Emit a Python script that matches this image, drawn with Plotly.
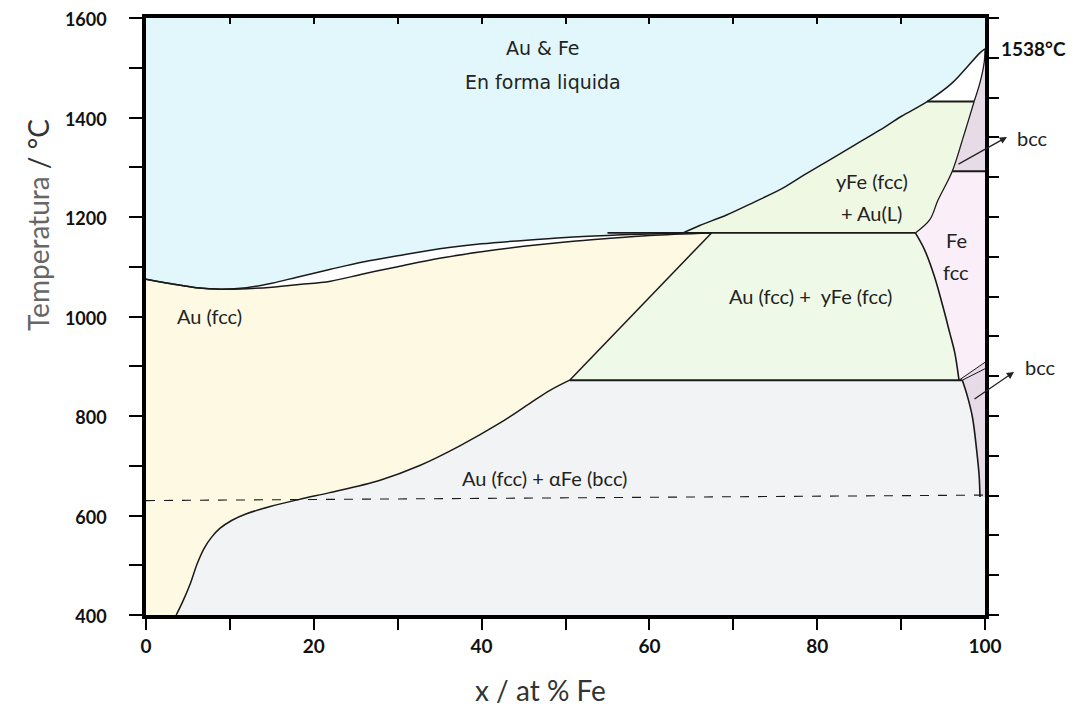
import plotly.graph_objects as go

# ---------------- data ----------------
liq_left_x = [0, 3, 6, 9, 12, 15, 18, 22, 26, 30, 35, 40, 45, 50, 55, 60, 64]
liq_left_T = [1075, 1066, 1058, 1055, 1058, 1067, 1079, 1095, 1110, 1122, 1136, 1146, 1153, 1159, 1163, 1166, 1168]

sol_left_x = [0, 3, 6, 9, 12, 15, 18, 22, 26, 30, 35, 40, 45, 50, 55, 60, 67.4]
sol_left_T = [1075, 1066, 1058, 1055, 1056, 1059, 1064, 1071, 1086, 1100, 1117, 1130, 1141, 1150, 1157, 1163, 1168]

liq_right_x = [64, 66, 69.2, 72.5, 75.9, 78.5, 81.5, 84.5, 87.5, 90, 93.1, 96, 99.4, 100]
liq_right_T = [1168, 1183, 1204, 1230, 1258, 1285, 1315, 1345, 1375, 1402, 1432, 1468, 1530, 1538]

peritectic_x = [55, 91.7]
peritectic_T = [1168, 1168]

au_solvus_hi_x = [67.4, 50.5]
au_solvus_hi_T = [1168, 872]

au_solvus_lo_x = [50.5, 48.2, 45.8, 42.2, 37.4, 32.7, 27.9, 21.9, 18.7, 14.8, 11.9, 10.2, 8.8, 7.8, 6.9, 6.1, 5.3, 4.4, 3.6]
au_solvus_lo_T = [872, 852, 826, 786, 740, 701, 671, 646, 634, 618, 603, 590, 574, 556, 533, 503, 464, 428, 400]

eutectoid_x = [50.5, 97.3]
eutectoid_T = [872, 872]

gamma_solvus_x = [91.7, 92.8, 94.0, 95.0, 95.8, 96.4, 96.9]
gamma_solvus_T = [1168, 1134, 1079, 1019, 967, 927, 872]

gamma_upper_x = [91.7, 93.4, 94.4, 96.1, 97.4, 98.7]
gamma_upper_T = [1168, 1194, 1234, 1292, 1360, 1432]

delta_x = [98.7, 99.4, 99.9, 100]
delta_T = [1432, 1470, 1510, 1538]

line1432_x = [93.1, 98.7]
line1432_T = [1432, 1432]

line1292_x = [96.1, 100]
line1292_T = [1292, 1292]

wedge_a_x = [96.9, 100]
wedge_a_T = [872, 908]
wedge_b_x = [97.3, 100]
wedge_b_T = [872, 895]

alpha_solvus_x = [97.3, 97.9, 98.5, 99.0, 99.3, 99.4]
alpha_solvus_T = [872, 840, 798, 732, 680, 637]

curie_x = [0, 100]
curie_T = [630, 641]

x_ticks = [0, 20, 40, 60, 80, 100]
y_ticks = [400, 600, 800, 1000, 1200, 1400, 1600]

# ---------------- colours ----------------
C_LIQ = "#e1f7fb"
C_AU = "#fdf9e2"
C_GREEN = "#eff9e7"
C_GREEN2 = "#eef8e3"
C_PINK = "#faeef8"
C_GRAY = "#f1f3f5"
C_PURPLE = "#e6dbe7"
LINE = "#1a1a1a"

rev = lambda a: list(reversed(a))

fig = go.Figure()

def region(xs, ys, color):
    fig.add_trace(go.Scatter(x=xs, y=ys, fill="toself", fillcolor=color, mode="lines",
                             line=dict(width=0, color=color), hoverinfo="skip", showlegend=False))

# liquid
region([0, 100] + rev(liq_right_x) + rev(liq_left_x),
       [1600, 1600] + rev(liq_right_T) + rev(liq_left_T), C_LIQ)
# Au (fcc)
region(sol_left_x + au_solvus_hi_x[1:] + au_solvus_lo_x[1:] + [0],
       sol_left_T + au_solvus_hi_T[1:] + au_solvus_lo_T[1:] + [400], C_AU)
# Au(fcc)+aFe(bcc)
region(rev(au_solvus_lo_x) + [eutectoid_x[1]] + alpha_solvus_x[1:] + [100, 100],
       rev(au_solvus_lo_T) + [eutectoid_T[1]] + alpha_solvus_T[1:] + [alpha_solvus_T[-1], 400], C_GRAY)
# bcc (low)
region([wedge_a_x[0], wedge_a_x[1], 100] + rev(alpha_solvus_x),
       [wedge_a_T[0], wedge_a_T[1], alpha_solvus_T[-1]] + rev(alpha_solvus_T), C_PURPLE)
# Au(fcc)+gFe(fcc)
region([au_solvus_hi_x[0]] + gamma_solvus_x + [eutectoid_x[0]],
       [au_solvus_hi_T[0]] + gamma_solvus_T + [eutectoid_T[0]], C_GREEN)
# gFe(fcc)+Au(L)
region(liq_right_x[:11] + [line1432_x[1]] + rev(gamma_upper_x),
       liq_right_T[:11] + [line1432_T[1]] + rev(gamma_upper_T), C_GREEN2)
# Fe fcc
region(rev(gamma_solvus_x) + gamma_upper_x[1:4] + [100, 100],
       rev(gamma_solvus_T) + gamma_upper_T[1:4] + [line1292_T[1], wedge_a_T[1]], C_PINK)
# bcc (high)
region(gamma_upper_x[3:] + delta_x[1:] + [100],
       gamma_upper_T[3:] + delta_T[1:] + [line1292_T[1]], C_PURPLE)

def curve(xs, ys, width=1.5, dash=None, shape="spline"):
    fig.add_trace(go.Scatter(x=xs, y=ys, mode="lines",
                             line=dict(color=LINE, width=width, dash=dash, shape=shape, smoothing=1.0),
                             hoverinfo="skip", showlegend=False))

curve(liq_left_x, liq_left_T)
curve(sol_left_x, sol_left_T)
curve(liq_right_x, liq_right_T)
curve(peritectic_x, peritectic_T, 1.6, shape="linear")
curve(au_solvus_hi_x, au_solvus_hi_T, shape="linear")
curve(au_solvus_lo_x, au_solvus_lo_T)
curve(eutectoid_x, eutectoid_T, 2.0, shape="linear")
curve(gamma_solvus_x, gamma_solvus_T, 1.6)
curve(gamma_upper_x, gamma_upper_T, 1.3)
curve(delta_x, delta_T, 1.3)
curve(line1432_x, line1432_T, 2.0, shape="linear")
curve(line1292_x, line1292_T, 2.0, shape="linear")
curve(wedge_a_x, wedge_a_T, 1.0, shape="linear")
curve(wedge_b_x, wedge_b_T, 1.0, shape="linear")
curve(alpha_solvus_x, alpha_solvus_T, 1.6)
curve(curie_x, curie_T, 1.1, dash="dash", shape="linear")

# helper trace for the secondary (tick-only) axes
fig.add_trace(go.Scatter(x=[0], y=[400], xaxis="x2", yaxis="y2", mode="markers",
                         marker=dict(opacity=0), hoverinfo="skip", showlegend=False))

TICKFONT = dict(family="Lato", size=18, color="#111", weight="bold")

# the page body has an 8px margin; the plot area sits at page px x 146..985, y 18..615
fig.update_layout(
    width=1063, height=698,
    margin=dict(l=138, r=86, t=10, b=91, autoexpand=False),
    paper_bgcolor="white", plot_bgcolor="white",
    xaxis=dict(range=[0, 100], tickvals=x_ticks, ticks="outside", ticklen=11, tickwidth=2,
               tickcolor="black", showline=True, linewidth=3.5, linecolor="black", automargin=False,
               showgrid=False, zeroline=False, tickfont=dict(TICKFONT, size=19), ticklabelstandoff=0,
               ticklabeloverflow="allow",
               minor=dict(dtick=10, ticks="outside", ticklen=11, tickwidth=2, tickcolor="black")),
    yaxis=dict(range=[400, 1600], tickvals=y_ticks, ticks="outside", ticklen=13, tickwidth=2,
               tickcolor="black", showline=True, linewidth=3.5, linecolor="black", automargin=False,
               showgrid=False, zeroline=False, tickfont=TICKFONT, ticklabelstandoff=19,
               ticklabeloverflow="allow", ticklabelshift=2,
               minor=dict(dtick=100, ticks="outside", ticklen=13, tickwidth=2, tickcolor="black")),
    xaxis2=dict(range=[0, 100], overlaying="x", side="top", dtick=10, tick0=0, ticks="inside",
                ticklen=6, tickwidth=2, tickcolor="black", showticklabels=False, automargin=False,
                showline=True, linewidth=3.5, linecolor="black", showgrid=False, zeroline=False),
    yaxis2=dict(range=[400, 1600], overlaying="y", side="right", dtick=80, tick0=400, automargin=False,
                ticks="outside", ticklen=10, tickwidth=2, tickcolor="black", showticklabels=False,
                showline=True, linewidth=3.5, linecolor="black", showgrid=False, zeroline=False),
)

def label(x, y, text, size=20, family="Lato", color="#222", weight="normal", xref="x", yref="y"):
    fig.add_annotation(x=x, y=y, xref=xref, yref=yref, text=text, showarrow=False,
                       xanchor="center", yanchor="middle",
                       font=dict(family=family, size=size, color=color, weight=weight))

label(47.3, 1540, "Au &amp; Fe", size=19, family="DejaVu Sans")
label(47.3, 1471, "En forma liquida", size=19, family="DejaVu Sans")
label(7.6, 1002, "Au (fcc)")
label(79.2, 1041, "Au (fcc) +  yFe (fcc)")
label(86.5, 1273, "yFe (fcc)")
label(86.5, 1209, "+ Au(L)")
label(96.6, 1153, "Fe")
label(96.6, 1089, "fcc")
label(47.5, 676, "Au (fcc) + αFe (bcc)")

# outside-the-plot texts (paper coordinates)
def px2paper(px, py):
    return (px - 146) / 839, (615 - py) / 597

xp, yp = px2paper(1033, 48)
label(xp, yp, "1538°C", size=19, color="#111", weight="bold", xref="paper", yref="paper")
xp, yp = px2paper(1032, 138)
label(xp, yp, "bcc", size=20, xref="paper", yref="paper")
xp, yp = px2paper(1040, 367)
label(xp, yp, "bcc", size=20, xref="paper", yref="paper")

for head, tail in [((1007, 137), (957, 165)), ((1014, 372), (973, 400))]:
    hx, hy = px2paper(*head)
    fig.add_annotation(x=hx, y=hy, xref="paper", yref="paper", text="", showarrow=True,
                       ax=tail[0] - head[0], ay=tail[1] - head[1], axref="pixel", ayref="pixel",
                       arrowhead=2, arrowsize=1.1, arrowwidth=1.3, arrowcolor="#222", standoff=0)

# axis titles
xp, yp = px2paper(38, 225)
fig.add_annotation(x=xp, y=yp, xref="paper", yref="paper", showarrow=False, textangle=-90,
                   xanchor="center", yanchor="middle",
                   text='<span style="color:#666">Temperatura</span> <span style="color:#333">/ °C</span>',
                   font=dict(family="Lato", size=28))
xp, yp = px2paper(540, 690)
fig.add_annotation(x=xp, y=yp, xref="paper", yref="paper", showarrow=False,
                   xanchor="center", yanchor="middle",
                   text="x / at % Fe", font=dict(family="Lato", size=28, color="#333"))

fig.write_html("out.html")
